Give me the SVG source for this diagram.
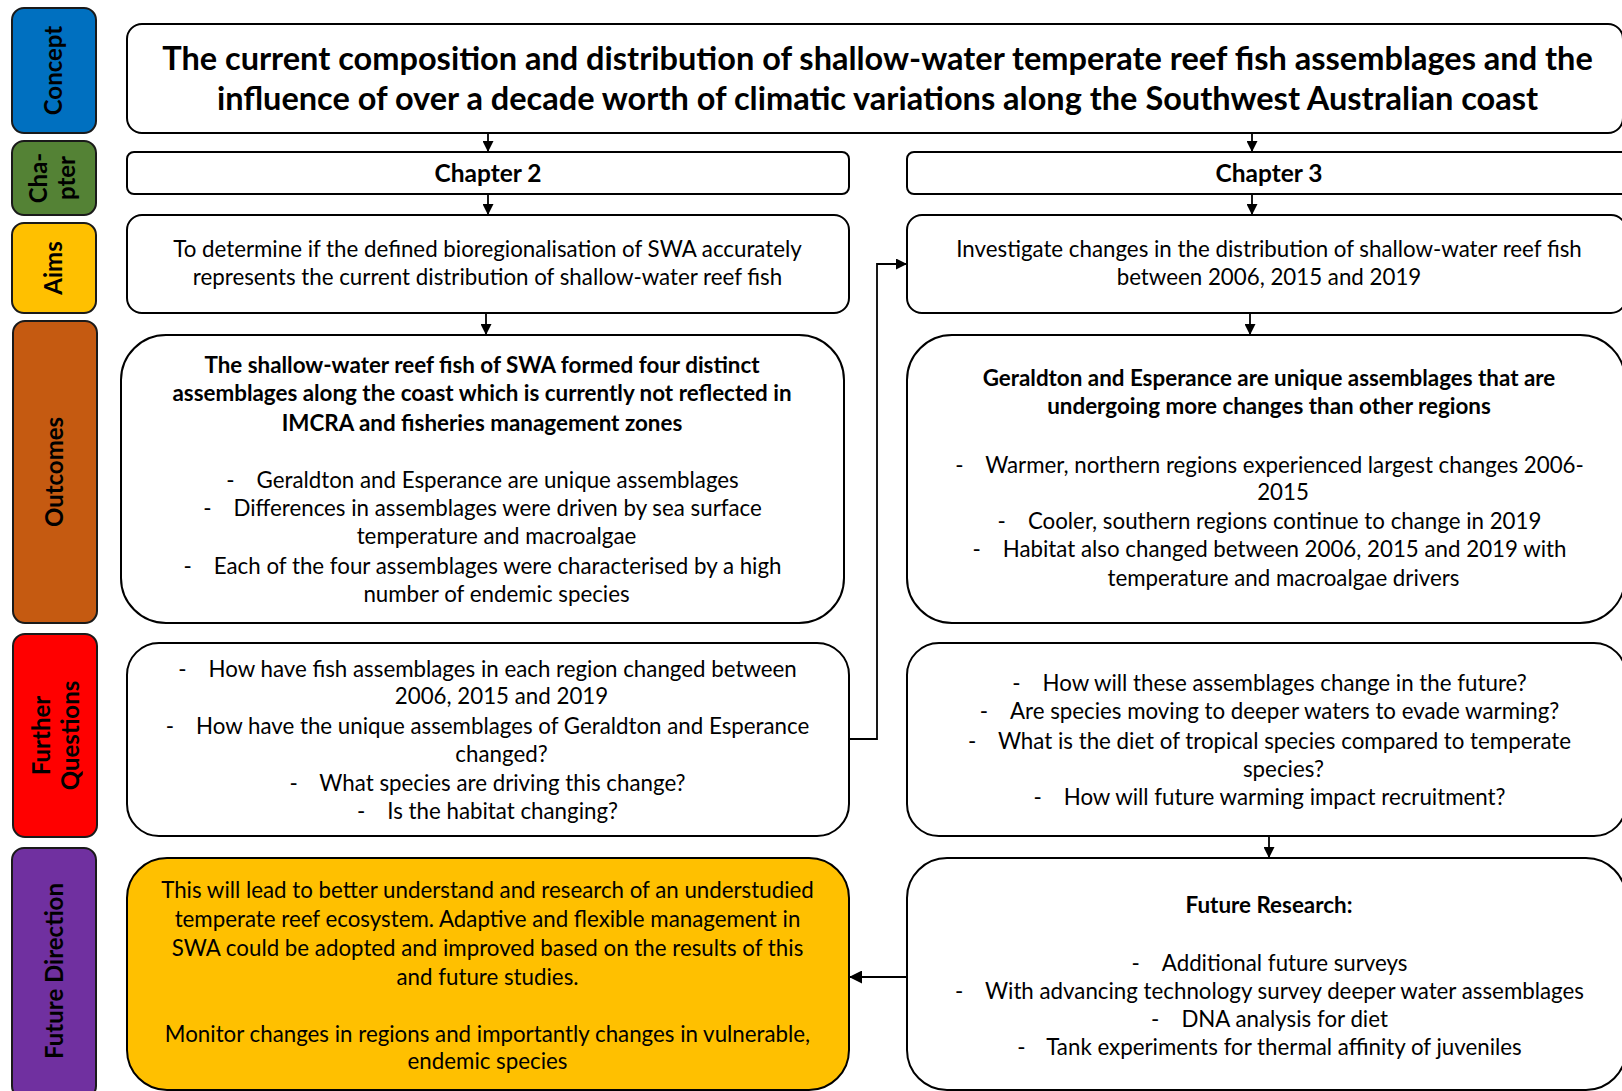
<svg xmlns="http://www.w3.org/2000/svg" width="1622" height="1091" viewBox="0 0 1622 1091">
<defs>
<marker id="ah" viewBox="0 0 10 10" refX="10" refY="5" markerWidth="11" markerHeight="11" markerUnits="userSpaceOnUse" orient="auto"><path d="M0,0 L10,5 L0,10 z" fill="#000"/></marker>
<marker id="ahb" viewBox="0 0 10 10" refX="10" refY="5" markerWidth="13" markerHeight="13" markerUnits="userSpaceOnUse" orient="auto"><path d="M0,0 L10,5 L0,10 z" fill="#000"/></marker>
<style>
.lab{stroke:#1a1a1a;stroke-width:2}
.box{fill:#fff;stroke:#000;stroke-width:2}
.yel{fill:#FFC000;stroke:#000;stroke-width:2}
text{font-family:Lato,"Liberation Sans",sans-serif;fill:#000}
.lt{font-size:24px;font-weight:bold;text-anchor:middle}
.ti{font-size:32.5px;font-weight:bold;text-anchor:middle}
.ch{font-size:24.5px;font-weight:bold;text-anchor:middle}
.t{font-size:22.3px;text-anchor:middle}
.b{font-size:22.4px;font-weight:bold;text-anchor:middle}
.con{fill:none;stroke:#000;stroke-width:1.8}
</style>
</defs>
<rect width="1622" height="1091" fill="#fff"/>

<g id="label-concept"><rect class="lab" x="12" y="8" width="84" height="125" rx="12" fill="#0070C0"/><text class="lt" transform="translate(62,70.5) rotate(-90)">Concept</text></g>
<g id="label-chapter"><rect class="lab" x="12" y="141" width="84" height="74" rx="12" fill="#548235"/><text class="lt" transform="translate(47,178) rotate(-90)">Cha-</text><text class="lt" transform="translate(75,178) rotate(-90)">pter</text></g>
<g id="label-aims"><rect class="lab" x="12" y="223" width="84" height="90" rx="12" fill="#FFC000"/><text class="lt" transform="translate(62,268) rotate(-90)">Aims</text></g>
<g id="label-outcomes"><rect class="lab" x="13" y="321" width="84" height="302" rx="12" fill="#C55A11"/><text class="lt" transform="translate(63,472) rotate(-90)">Outcomes</text></g>
<g id="label-further"><rect class="lab" x="13" y="634" width="84" height="203" rx="12" fill="#FF0000"/><text class="lt" transform="translate(50,735.5) rotate(-90)">Further</text><text class="lt" transform="translate(79,735.5) rotate(-90)">Questions</text></g>
<g id="label-future"><rect class="lab" x="12" y="848" width="84" height="250" rx="12" fill="#7030A0"/><text class="lt" transform="translate(63,971) rotate(-90)">Future Direction</text></g>

<g id="concept"><rect class="box" x="127" y="24" width="1496" height="109" rx="15"/>
<text class="ti" x="877.5" y="70">The current composition and distribution of shallow-water temperate reef fish assemblages and the</text>
<text class="ti" x="877.5" y="110">influence of over a decade worth of climatic variations along the Southwest Australian coast</text></g>

<g id="chapter2"><rect class="box" x="127" y="152" width="722" height="42" rx="7"/><text class="ch" x="488" y="182">Chapter 2</text></g>
<g id="chapter3"><rect class="box" x="907" y="152" width="730" height="42" rx="7"/><text class="ch" x="1269" y="182">Chapter 3</text></g>

<g id="aims2"><rect class="box" x="127" y="215" width="722" height="98" rx="15"/>
<text class="t" x="487.5" y="257">To determine if the defined bioregionalisation of SWA accurately</text>
<text class="t" x="487.5" y="285">represents the current distribution of shallow-water reef fish</text></g>
<g id="aims3"><rect class="box" x="907" y="215" width="719" height="98" rx="15"/>
<text class="t" x="1269" y="257">Investigate changes in the distribution of shallow-water reef fish</text>
<text class="t" x="1269" y="285">between 2006, 2015 and 2019</text></g>

<g id="outcomes2"><rect class="box" x="121" y="335" width="723" height="288" rx="45"/>
<text class="b" x="482" y="372.7">The shallow-water reef fish of SWA formed four distinct</text>
<text class="b" x="482" y="401">assemblages along the coast which is currently not reflected in</text>
<text class="b" x="482" y="430.5">IMCRA and fisheries management zones</text>
<text class="t" x="482.5" y="487.7">-<tspan dx="22">Geraldton and Esperance are unique assemblages</tspan></text>
<text class="t" x="482.5" y="516">-<tspan dx="22">Differences in assemblages were driven by sea surface</tspan></text>
<text class="t" x="496.5" y="543.5">temperature and macroalgae</text>
<text class="t" x="482.5" y="573.5">-<tspan dx="22">Each of the four assemblages were characterised by a high</tspan></text>
<text class="t" x="496.5" y="601.5">number of endemic species</text></g>

<g id="outcomes3"><rect class="box" x="907" y="335" width="718" height="288" rx="45"/>
<text class="b" x="1269" y="386">Geraldton and Esperance are unique assemblages that are</text>
<text class="b" x="1269" y="414">undergoing more changes than other regions</text>
<text class="t" x="1269.5" y="472.5">-<tspan dx="22">Warmer, northern regions experienced largest changes 2006-</tspan></text>
<text class="t" x="1283" y="500">2015</text>
<text class="t" x="1269.5" y="529">-<tspan dx="22">Cooler, southern regions continue to change in 2019</tspan></text>
<text class="t" x="1269.5" y="557">-<tspan dx="22">Habitat also changed between 2006, 2015 and 2019 with</tspan></text>
<text class="t" x="1283.5" y="586">temperature and macroalgae drivers</text></g>

<g id="questions2"><rect class="box" x="127" y="643" width="722" height="193" rx="32"/>
<text class="t" x="487.5" y="676.7">-<tspan dx="22">How have fish assemblages in each region changed between</tspan></text>
<text class="t" x="501.5" y="704">2006, 2015 and 2019</text>
<text class="t" x="487.5" y="734">-<tspan dx="22">How have the unique assemblages of Geraldton and Esperance</tspan></text>
<text class="t" x="501.5" y="762">changed?</text>
<text class="t" x="487.5" y="791">-<tspan dx="22">What species are driving this change?</tspan></text>
<text class="t" x="487.5" y="819">-<tspan dx="22">Is the habitat changing?</tspan></text></g>

<g id="questions3"><rect class="box" x="907" y="643" width="719" height="193" rx="32"/>
<text class="t" x="1269.5" y="691">-<tspan dx="22">How will these assemblages change in the future?</tspan></text>
<text class="t" x="1269.5" y="719">-<tspan dx="22">Are species moving to deeper waters to evade warming?</tspan></text>
<text class="t" x="1269.5" y="749">-<tspan dx="22">What is the diet of tropical species compared to temperate</tspan></text>
<text class="t" x="1283.5" y="777">species?</text>
<text class="t" x="1269.5" y="805">-<tspan dx="22">How will future warming impact recruitment?</tspan></text></g>

<g id="future-direction"><rect class="yel" x="127" y="858" width="722" height="232" rx="40"/>
<text class="t" x="487.5" y="898">This will lead to better understand and research of an understudied</text>
<text class="t" x="487.5" y="926.5">temperate reef ecosystem. Adaptive and flexible management in</text>
<text class="t" x="487.5" y="956">SWA could be adopted and improved based on the results of this</text>
<text class="t" x="487.5" y="984.5">and future studies.</text>
<text class="t" x="487.5" y="1041.5">Monitor changes in regions and importantly changes in vulnerable,</text>
<text class="t" x="487.5" y="1069">endemic species</text></g>

<g id="future-research"><rect class="box" x="907" y="858" width="719" height="232" rx="40"/>
<text class="b" x="1269" y="912.5">Future Research:</text>
<text class="t" x="1269.5" y="970.5">-<tspan dx="22">Additional future surveys</tspan></text>
<text class="t" x="1269.5" y="999">-<tspan dx="22">With advancing technology survey deeper water assemblages</tspan></text>
<text class="t" x="1269.5" y="1027">-<tspan dx="22">DNA analysis for diet</tspan></text>
<text class="t" x="1269.5" y="1055">-<tspan dx="22">Tank experiments for thermal affinity of juveniles</tspan></text></g>

<g id="connectors">
<line class="con" x1="488" y1="133" x2="488" y2="152" marker-end="url(#ah)"/>
<line class="con" x1="1252" y1="133" x2="1252" y2="152" marker-end="url(#ah)"/>
<line class="con" x1="488" y1="194" x2="488" y2="215" marker-end="url(#ah)"/>
<line class="con" x1="1252" y1="194" x2="1252" y2="215" marker-end="url(#ah)"/>
<line class="con" x1="486" y1="313" x2="486" y2="335" marker-end="url(#ah)"/>
<line class="con" x1="1250" y1="313" x2="1250" y2="335" marker-end="url(#ah)"/>
<polyline class="con" points="849,739 877,739 877,264 907,264" marker-end="url(#ah)"/>
<line class="con" x1="1269" y1="836" x2="1269" y2="858" marker-end="url(#ah)"/>
<line class="con" x1="907" y1="977" x2="849" y2="977" stroke-width="1.3" marker-end="url(#ahb)"/>
</g>
</svg>
